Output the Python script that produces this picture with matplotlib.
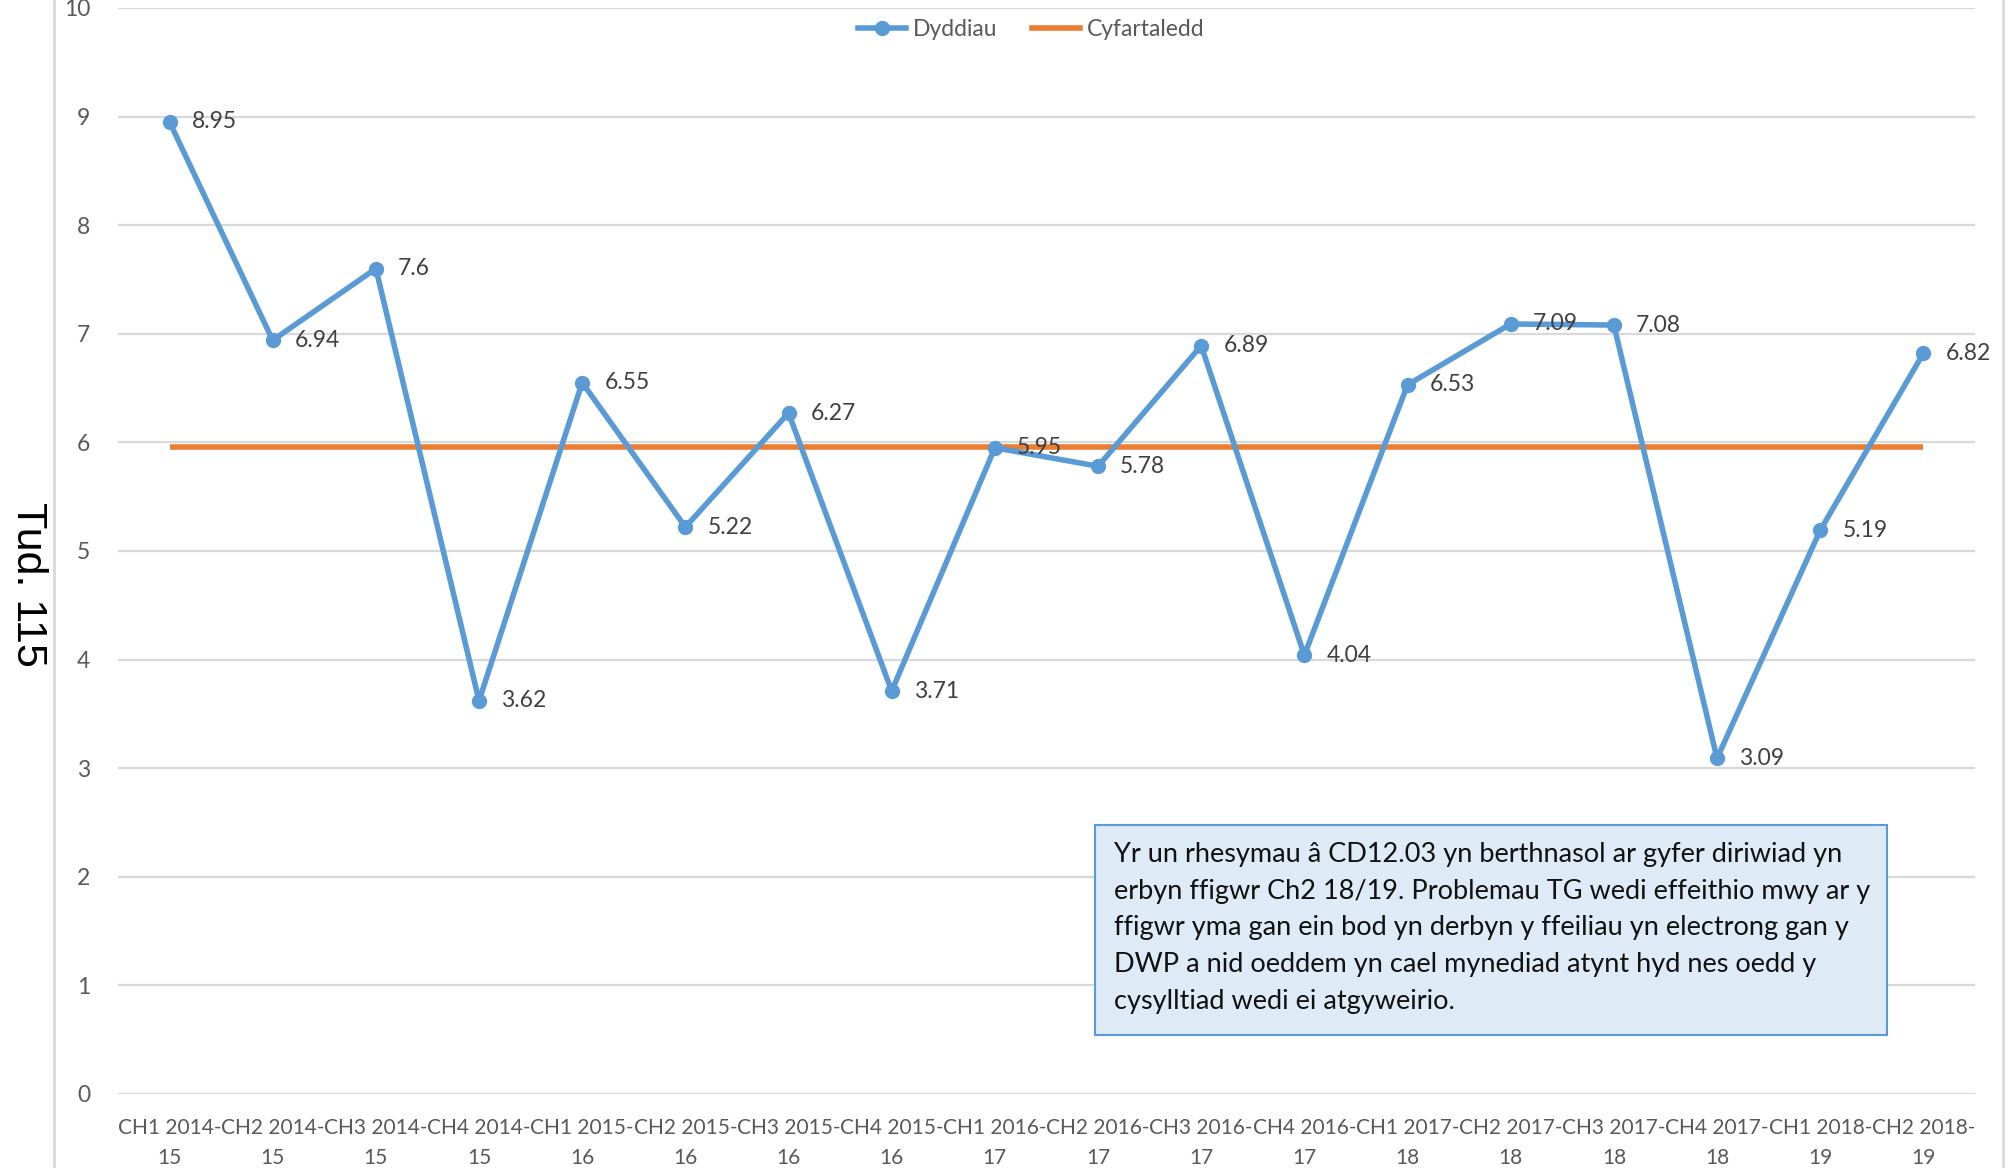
#Importing libraries
import numpy as np
import matplotlib.pyplot as plt
from matplotlib.patches import Rectangle
from matplotlib.lines import Line2D

#Data
quarters = ['CH1 2014-\n15', 'CH2 2014-\n15', 'CH3 2014-\n15', 'CH4 2014-\n15',
            'CH1 2015-\n16', 'CH2 2015-\n16', 'CH3 2015-\n16', 'CH4 2015-\n16',
            'CH1 2016-\n17', 'CH2 2016-\n17', 'CH3 2016-\n17', 'CH4 2016-\n17',
            'CH1 2017-\n18', 'CH2 2017-\n18', 'CH3 2017-\n18', 'CH4 2017-\n18',
            'CH1 2018-\n19', 'CH2 2018-\n19']
days = [8.95, 6.94, 7.6, 3.62, 6.55, 5.22, 6.27, 3.71, 5.95,
        5.78, 6.89, 4.04, 6.53, 7.09, 7.08, 3.09, 5.19, 6.82]
average = [5.96] * len(quarters)
yticks = [0, 1, 2, 3, 4, 5, 6, 7, 8, 9, 10]

note = ("Yr un rhesymau â CD12.03 yn berthnasol ar gyfer diriwiad yn\n"
        "erbyn ffigwr Ch2 18/19. Problemau TG wedi effeithio mwy ar y\n"
        "ffigwr yma gan ein bod yn derbyn y ffeiliau yn electrong gan y\n"
        "DWP a nid oeddem yn cael mynediad atynt hyd nes oedd y\n"
        "cysylltiad wedi ei atgyweirio.")

blue = '#5B9BD5'
orange = '#ED7D31'
grid = '#D9D9D9'
plt.rcParams['font.family'] = ['Lato', 'DejaVu Sans']

fig = plt.figure(figsize=(20.13, 11.68), dpi=100)
ax = fig.add_axes([0.0586, 0.0634, 0.9225, 0.9298])

x = np.arange(len(quarters))
ax.plot(x, average, color=orange, lw=4, solid_capstyle='butt', zorder=2, label='Cyfartaledd')
ax.plot(x, days, color=blue, lw=4, marker='o', markersize=10, zorder=3, label='Dyddiau')

for xi, v in zip(x, days):
    ax.annotate('{:g}'.format(v), (xi, v), xytext=(16, 0), textcoords='offset points',
                ha='left', va='center', fontsize=16.5, color='#404040', zorder=4)

ax.set_xlim(-0.5, len(quarters) - 0.5)
ax.set_ylim(0, 10)
ax.set_yticks(yticks)
ax.set_xticks(x)
ax.set_xticklabels(quarters, fontsize=15, color='#595959', linespacing=1.65)
ax.tick_params(axis='y', labelsize=16.5, labelcolor='#595959', length=0, pad=20)
ax.tick_params(axis='x', length=0, pad=17)
ax.yaxis.grid(True, color=grid, lw=1.6)
ax.set_axisbelow(True)
for s in ax.spines.values():
    s.set_visible(False)

#Legend
handles = [Line2D([], [], color=blue, lw=4, marker='o', markersize=10),
           Line2D([], [], color=orange, lw=4)]
ax.legend(handles, ['Dyddiau', 'Cyfartaledd'], loc='center', bbox_to_anchor=(0.492, 0.98),
          ncol=2, frameon=False, fontsize=16.5, labelcolor='#595959',
          handlelength=2.1, handletextpad=0.3, columnspacing=1.5)

#Chart border lines
fig.add_artist(Line2D([54 / 2013, 54 / 2013], [0, 1], color=grid, lw=2))
fig.add_artist(Line2D([2003 / 2013, 2003 / 2013], [0, 1], color=grid, lw=2))

#Note box
fig.add_artist(Rectangle((0.544, 0.1139), 0.3934, 0.1798, transform=fig.transFigure,
                         facecolor='#DEEBF7', edgecolor=blue, lw=1.5, zorder=5))
fig.text(0.5534, 0.279, note, ha='left', va='top', fontsize=19.5, color='#111111',
         linespacing=1.58, zorder=6)

fig.text(0.0139, 0.5, 'Tud. 115', rotation=-90, ha='center', va='center',
         fontsize=31, family='Liberation Sans', color='black')

plt.savefig('out.png', dpi=100)
